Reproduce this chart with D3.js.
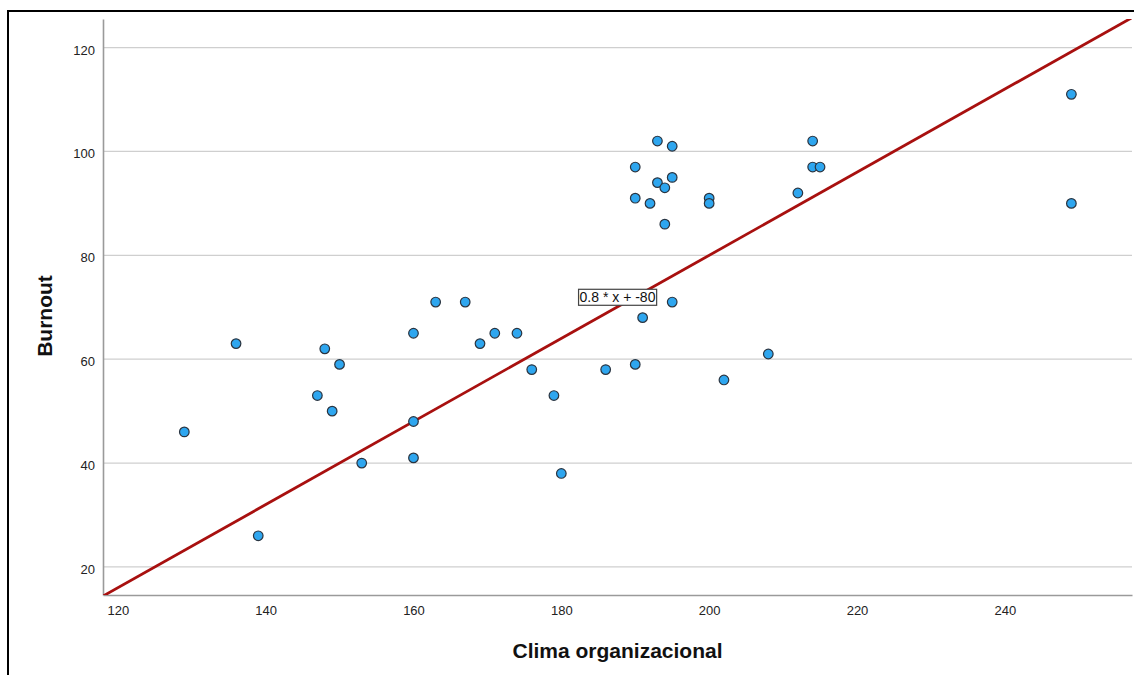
<!DOCTYPE html>
<html>
<head>
<meta charset="utf-8">
<script src="https://cdn.jsdelivr.net/npm/d3@7"></script>
<style>
  body { margin: 0; background: #fff; }
  svg { display: block; font-family: Arial, "Liberation Sans", sans-serif; }
</style>
</head>
<body>
<svg id="chart" width="1134" height="675"></svg>
<script>
// Clima organizacional (x) vs Burnout (y)
const clima = [129, 136, 139, 147, 148, 149, 150, 153, 160, 160, 160, 163, 167, 169,
  171, 174, 176, 179, 180, 186, 190, 190, 190, 191, 192, 193, 193, 194, 194, 195,
  195, 195, 200, 200, 202, 208, 212, 214, 214, 215, 249, 249];
const burnout = [46, 63, 26, 53, 62, 50, 59, 40, 65, 48, 41, 71, 71, 63,
  65, 65, 58, 53, 38, 58, 59, 91, 97, 68, 90, 102, 94, 93, 86, 101,
  95, 71, 91, 90, 56, 61, 92, 102, 97, 97, 111, 90];
const xTicks = [120, 140, 160, 180, 200, 220, 240];
const yTicks = [20, 40, 60, 80, 100, 120];
const slope = 0.8, intercept = -80;
const fitLabel = "0.8 * x + -80";

const svg = d3.select("#chart");
const margin = { top: 19, right: 2, bottom: 80, left: 103 };
const width = 1134, height = 675;

const x = d3.scaleLinear().domain([118, 257.2]).range([margin.left, width - margin.right]);
const y = d3.scaleLinear().domain([14.6, 125.5]).range([height - margin.bottom, margin.top]);

// outer frame (cut off at right and bottom like the original)
svg.append("rect")
  .attr("x", 8).attr("y", 11)
  .attr("width", 1200).attr("height", 800)
  .attr("fill", "none").attr("stroke", "#000").attr("stroke-width", 2);

svg.append("defs").append("clipPath").attr("id", "clip")
  .append("rect")
  .attr("x", margin.left).attr("y", margin.top)
  .attr("width", width - margin.left - margin.right)
  .attr("height", height - margin.top - margin.bottom);

// gridlines
svg.append("g")
  .selectAll("line")
  .data(yTicks)
  .join("line")
  .attr("x1", margin.left).attr("x2", width - margin.right)
  .attr("y1", d => y(d)).attr("y2", d => y(d))
  .attr("stroke", "#cfcfcf").attr("stroke-width", 1.3);

// axes
const yAxis = svg.append("g")
  .attr("transform", `translate(${margin.left},0)`)
  .call(d3.axisLeft(y).tickValues(yTicks).tickSize(0).tickPadding(8));
const xAxis = svg.append("g")
  .attr("transform", `translate(0,${height - margin.bottom})`)
  .call(d3.axisBottom(x).tickValues(xTicks).tickSize(0).tickPadding(11));

[xAxis, yAxis].forEach(g => {
  g.select(".domain").attr("stroke", "#9a9a9a").attr("stroke-width", 1.6);
  g.selectAll("text").attr("font-size", 13).attr("fill", "#222")
    .attr("font-family", "Arial, 'Liberation Sans', sans-serif");
});
yAxis.selectAll("text").attr("dy", "0.5em");

// fit line
const plot = svg.append("g").attr("clip-path", "url(#clip)");
plot.append("line")
  .attr("x1", x(x.domain()[0])).attr("y1", y(slope * x.domain()[0] + intercept))
  .attr("x2", x(x.domain()[1])).attr("y2", y(slope * x.domain()[1] + intercept))
  .attr("stroke", "#a8100f").attr("stroke-width", 2.8);

// points
plot.append("g")
  .selectAll("circle")
  .data(clima.map((c, i) => [c, burnout[i]]))
  .join("circle")
  .attr("cx", d => x(d[0]))
  .attr("cy", d => y(d[1]))
  .attr("r", 4.8)
  .attr("fill", "#2ea6ef")
  .attr("stroke", "#2a3440")
  .attr("stroke-width", 1.2);

// fit label
const lbl = svg.append("g").attr("transform", `translate(${x(187.6)},${y(71.9)})`);
const t = lbl.append("text")
  .attr("text-anchor", "middle").attr("dy", "0.35em")
  .attr("font-size", 14).attr("fill", "#111")
  .text(fitLabel);
const bb = t.node().getBBox();
lbl.insert("rect", "text")
  .attr("x", bb.x - 1).attr("y", bb.y)
  .attr("width", bb.width + 2).attr("height", bb.height)
  .attr("fill", "#fff").attr("stroke", "#444").attr("stroke-width", 1.2);

// axis titles
svg.append("text")
  .attr("x", (margin.left + width - margin.right) / 2)
  .attr("y", 658)
  .attr("text-anchor", "middle")
  .attr("font-size", 21).attr("font-weight", "bold").attr("fill", "#111")
  .text("Clima organizacional");
svg.append("text")
  .attr("transform", `translate(52,316) rotate(-90)`)
  .attr("text-anchor", "middle")
  .attr("font-size", 21).attr("font-weight", "bold").attr("fill", "#111")
  .text("Burnout");
</script>
</body>
</html>
